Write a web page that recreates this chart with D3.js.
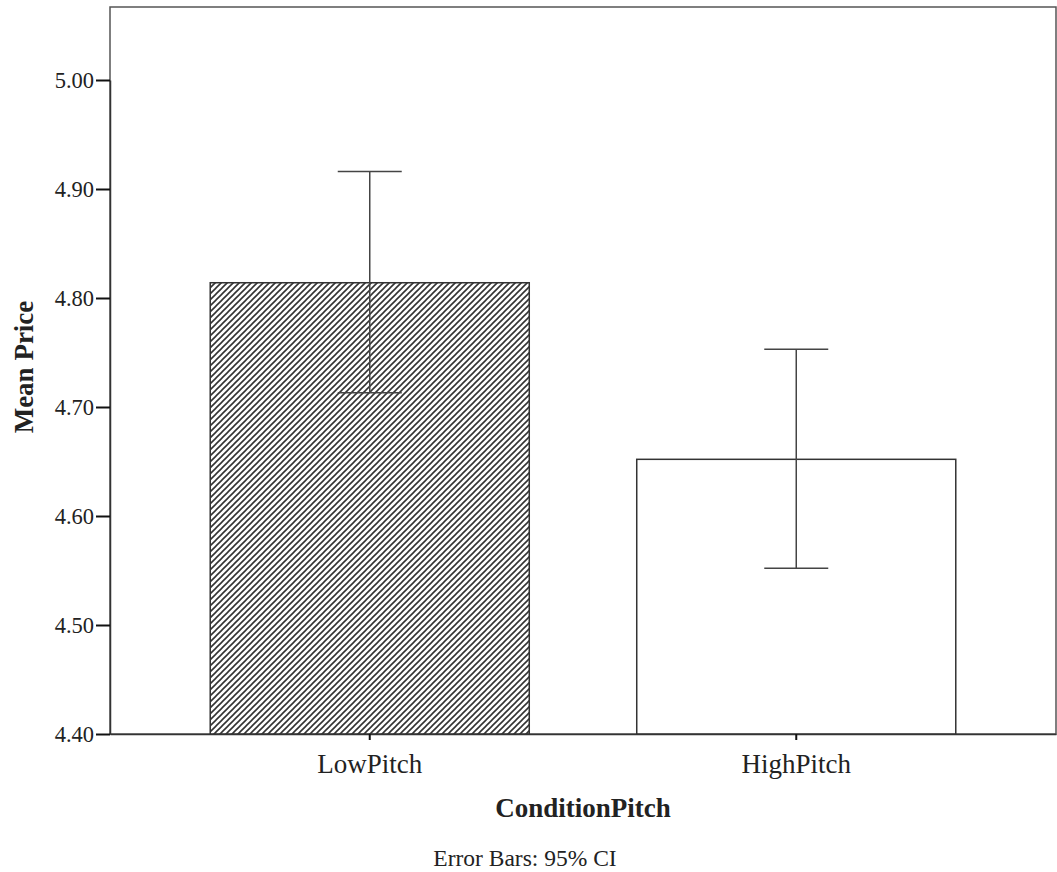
<!DOCTYPE html>
<html lang="en">
<head>
	<meta charset="UTF-8">
	<title>Mean Price by ConditionPitch</title>
	<style>
		body { margin: 0; background: #fff; }
		text { font-family: "Liberation Serif", "Times New Roman", serif; fill: #222; }
	</style>
</head>
<body>
	<script src="https://d3js.org/d3.v7.min.js"></script>
	<script type="text/javascript">
		// data
		var categories = ["LowPitch", "HighPitch"];
		var means = [4.814, 4.652];
		var ciLow = [4.713, 4.552];
		var ciHigh = [4.916, 4.753];
		var yTicks = [4.40, 4.50, 4.60, 4.70, 4.80, 4.90, 5.00];

		var W = 1057, H = 872;
		var mLeft = 110, mRight = 1056, mTop = 7, mBottom = 734;

		var svg = d3.select("body").append("svg").attr("width", W).attr("height", H);

		// hatching for the first bar
		var hs = 6;
		var pat = svg.append("defs").append("pattern")
			.attr("id", "hatch")
			.attr("patternUnits", "userSpaceOnUse")
			.attr("width", hs).attr("height", hs);
		pat.append("rect").attr("width", hs).attr("height", hs).attr("fill", "#fff");
		pat.append("path")
			.attr("d", "M-1,1 L1,-1 M0," + hs + " L" + hs + ",0 M" + (hs - 1) + "," + (hs + 1) + " L" + (hs + 1) + "," + (hs - 1))
			.attr("stroke", "#333").attr("stroke-width", 1.6);

		var x = d3.scaleBand().domain(categories).range([mLeft, mRight])
			.paddingInner(0.252).paddingOuter(0.235);
		var y = d3.scaleLinear().domain([4.40, 5.00]).range([mBottom, 80]);

		// frame
		svg.append("rect")
			.attr("x", mLeft).attr("y", mTop)
			.attr("width", mRight - mLeft).attr("height", mBottom - mTop)
			.attr("fill", "none").attr("stroke", "#555").attr("stroke-width", 1.5);

		// bars
		svg.selectAll(".bar").data(categories).enter().append("rect")
			.attr("class", "bar")
			.attr("x", function(d){ return x(d); })
			.attr("y", function(d, i){ return y(means[i]); })
			.attr("width", x.bandwidth())
			.attr("height", function(d, i){ return y(4.40) - y(means[i]); })
			.attr("fill", function(d, i){ return i == 0 ? "url(#hatch)" : "#fff"; })
			.attr("stroke", "#333").attr("stroke-width", 1.5);

		// error bars
		var cap = 32;
		var eb = svg.selectAll(".err").data(categories).enter().append("g").attr("class", "err")
			.attr("stroke", "#444").attr("stroke-width", 1.5);
		eb.append("line")
			.attr("x1", function(d){ return x(d) + x.bandwidth() / 2; })
			.attr("x2", function(d){ return x(d) + x.bandwidth() / 2; })
			.attr("y1", function(d, i){ return y(ciLow[i]); })
			.attr("y2", function(d, i){ return y(ciHigh[i]); });
		eb.append("line")
			.attr("x1", function(d){ return x(d) + x.bandwidth() / 2 - cap; })
			.attr("x2", function(d){ return x(d) + x.bandwidth() / 2 + cap; })
			.attr("y1", function(d, i){ return y(ciHigh[i]); })
			.attr("y2", function(d, i){ return y(ciHigh[i]); });
		eb.append("line")
			.attr("x1", function(d){ return x(d) + x.bandwidth() / 2 - cap; })
			.attr("x2", function(d){ return x(d) + x.bandwidth() / 2 + cap; })
			.attr("y1", function(d, i){ return y(ciLow[i]); })
			.attr("y2", function(d, i){ return y(ciLow[i]); });

		// y axis
		var yAxis = svg.append("g")
			.attr("transform", "translate(" + mLeft + ",0)")
			.call(d3.axisLeft(y).tickValues(yTicks).tickFormat(d3.format(".2f")).tickSize(14).tickSizeOuter(0).tickPadding(2));
		yAxis.select(".domain").attr("stroke", "#333").attr("stroke-width", 1.5);
		yAxis.selectAll(".tick line").attr("stroke", "#111").attr("stroke-width", 2);
		yAxis.selectAll(".tick text").style("font-family", "Liberation Serif").style("font-size", "22.5px").attr("fill", "#222");

		// x axis
		var xAxis = svg.append("g")
			.attr("transform", "translate(0," + mBottom + ")")
			.call(d3.axisBottom(x).tickSize(6).tickSizeOuter(0).tickPadding(14));
		xAxis.select(".domain").attr("stroke", "#333").attr("stroke-width", 1.5);
		xAxis.selectAll(".tick line").attr("stroke", "#111").attr("stroke-width", 2);
		xAxis.selectAll(".tick text").style("font-family", "Liberation Serif").style("font-size", "27px").attr("fill", "#222");

		// titles
		svg.append("text")
			.attr("x", (mLeft + mRight) / 2).attr("y", 817)
			.attr("text-anchor", "middle")
			.style("font-size", "27px").style("font-weight", "bold")
			.text("ConditionPitch");

		svg.append("text")
			.attr("transform", "translate(33," + 367 + ") rotate(-90)")
			.attr("text-anchor", "middle")
			.style("font-size", "27px").style("font-weight", "bold")
			.text("Mean Price");

		svg.append("text")
			.attr("x", 525).attr("y", 866)
			.attr("text-anchor", "middle")
			.style("font-size", "23.5px")
			.text("Error Bars: 95% CI");
	</script>
</body>
</html>
